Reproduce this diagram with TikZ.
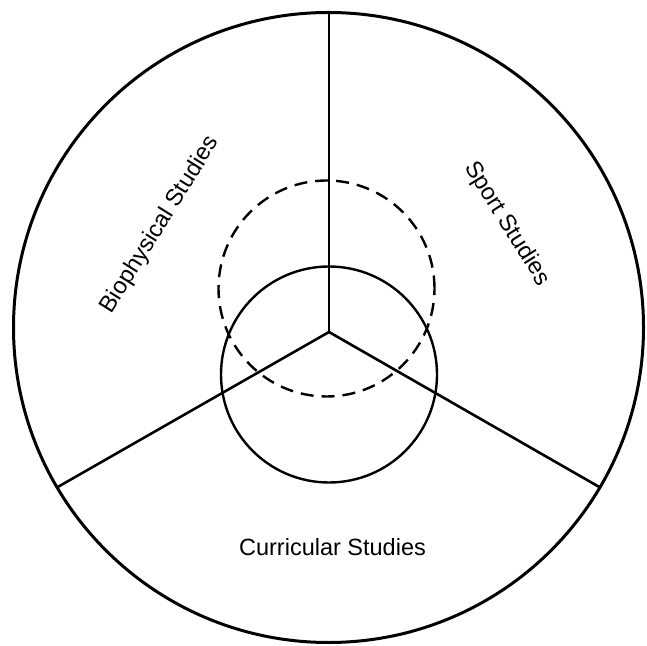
\documentclass[tikz,border=0pt]{standalone}
\usepackage{fontspec}
\setmainfont{Liberation Sans}
\usetikzlibrary{calc}
\begin{document}
\begin{tikzpicture}[x=1pt,y=1pt,
  outer/.style={line width=3pt},
  spoke/.style={line width=2.6pt},
  inner/.style={line width=2.4pt},
  dashring/.style={line width=2.4pt, dash pattern=on 13pt off 8pt},
  lbl/.style={font=\fontsize{23.5}{28}\selectfont, inner sep=0pt}]
\useasboundingbox (0,0) rectangle (647,645);
\coordinate (C) at (328.5,317.5);
\coordinate (J) at (329,313);
\coordinate (T) at (329,632.5);
\coordinate (L) at ($(C)+(210.5:315)$);
\coordinate (R) at ($(C)+(-30.5:315)$);
\coordinate (D) at (326.5,356.5);
\coordinate (S) at (329,270.5);
\draw[outer] (C) circle[radius=315];
\draw[spoke] (J) -- (T);
\draw[spoke] (J) -- (L);
\draw[spoke] (J) -- (R);
\draw[dashring] (D) circle[radius=108];
\draw[inner] (S) circle[radius=108];
\node[lbl, rotate=58] (bio) at (160,420) {Biophysical Studies};
\node[lbl, rotate=-58] (sport) at (507,421) {Sport Studies};
\node[lbl] (curr) at (332.5,98) {Curricular Studies};
\end{tikzpicture}
\end{document}
